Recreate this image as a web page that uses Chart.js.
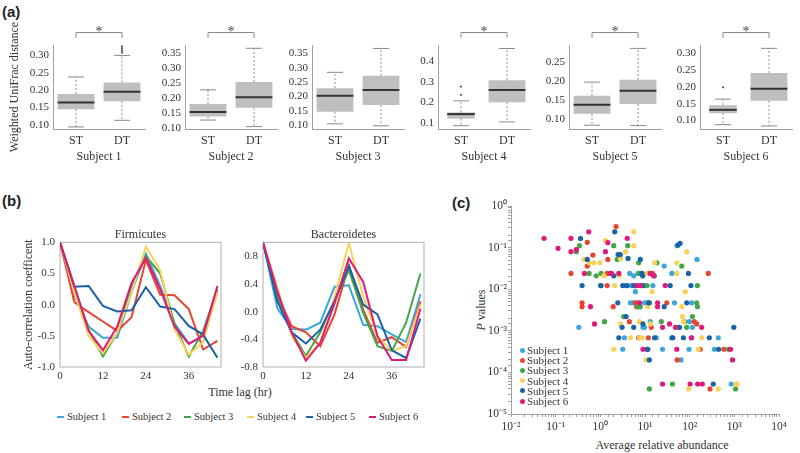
<!DOCTYPE html>
<html>
<head>
<meta charset="utf-8">
<script src="https://cdn.jsdelivr.net/npm/chart.js@4.4.1/dist/chart.umd.min.js"></script>
<style>
  body { margin: 0; background: #fff; }
  #fig { position: relative; width: 800px; height: 453px; overflow: hidden; font-family: "Liberation Serif", "Times New Roman", serif; color: #333; }
  canvas { position: absolute; }
  .tag { position: absolute; font: bold 15px "Liberation Sans", Arial, sans-serif; color: #222; }
  .txt { position: absolute; white-space: nowrap; font-size: 12px; line-height: 14px; transform: translate(-50%, -50%); }
  .leg { position: absolute; white-space: nowrap; font-family: "Liberation Serif", serif; font-size: 10.5px; line-height: 12px; }
  .mark { position: absolute; }
</style>
</head>
<body>
<div id="fig">
  <div class="tag" style="left:2px;top:3px">(a)</div>
  <div class="tag" style="left:2px;top:192px">(b)</div>
  <div class="tag" style="left:452px;top:194px">(c)</div>
  <div class="txt" style="left:240px;top:392px">Time lag (hr)</div>
  <div class="txt" style="left:662px;top:445px">Average relative abundance</div>
  <div class="txt" style="left:481px;top:310px;transform:translate(-50%,-50%) rotate(-90deg)"><i>P</i> values</div>
</div>
<script>
const subjects = ["Subject 1", "Subject 2", "Subject 3", "Subject 4", "Subject 5", "Subject 6"]
const colors = ["#3da5da", "#e8452f", "#3fa748", "#f9d25a", "#1a62a8", "#e01a7b"]
const groups = ["ST", "DT"]

// box stats: [lower whisker, Q1, median, Q3, upper whisker]
const stBoxes = [
    [0.094, 0.145, 0.164, 0.189, 0.238],
    [0.127, 0.139, 0.154, 0.181, 0.228],
    [0.105, 0.147, 0.203, 0.229, 0.284],
    [0.087, 0.121, 0.143, 0.151, 0.207],
    [0.083, 0.113, 0.137, 0.161, 0.197],
    [0.088, 0.122, 0.132, 0.146, 0.164]
]
const dtBoxes = [
    [0.113, 0.168, 0.195, 0.222, 0.300],
    [0.105, 0.168, 0.203, 0.254, 0.367],
    [0.098, 0.170, 0.223, 0.272, 0.367],
    [0.105, 0.200, 0.260, 0.307, 0.460],
    [0.082, 0.139, 0.174, 0.203, 0.286],
    [0.084, 0.159, 0.195, 0.242, 0.315]
]
const stOutliers = [[], [], [], [0.236, 0.276], [], [0.199]]
const dtOutliers = [[0.308, 0.314, 0.320, 0.326], [], [], [], [], []]
const significant = [true, true, false, true, true, true]
const boxYMin = [0.088, 0.097, 0.087, 0.071, 0.073, 0.075]
const boxYMax = [0.330, 0.378, 0.379, 0.477, 0.295, 0.325]
const boxTicks = [
    [0.10, 0.15, 0.20, 0.25, 0.30],
    [0.10, 0.15, 0.20, 0.25, 0.30, 0.35],
    [0.10, 0.15, 0.20, 0.25, 0.30, 0.35],
    [0.1, 0.2, 0.3, 0.4],
    [0.10, 0.15, 0.20, 0.25],
    [0.10, 0.15, 0.20, 0.25, 0.30]
]

// auto-correlation, one row per subject
const lags = [0, 4, 8, 12, 16, 20, 24, 28, 32, 36, 40, 44]
const firmicutes = [
    [1.0, 0.15, -0.35, -0.53, -0.53, 0.20, 0.82, 0.30, -0.30, -0.62, -0.50, 0.20],
    [1.0, 0.04, -0.12, -0.27, -0.42, -0.20, 0.72, 0.16, 0.15, -0.07, -0.72, -0.58],
    [1.0, 0.30, -0.40, -0.83, -0.45, 0.30, 0.78, 0.50, -0.30, -0.83, -0.42, 0.25],
    [1.0, 0.20, -0.50, -0.78, -0.45, 0.20, 0.93, 0.55, -0.40, -0.80, -0.60, 0.20],
    [1.0, 0.29, 0.30, -0.02, -0.11, -0.09, 0.28, -0.03, -0.07, -0.34, -0.48, -0.85],
    [1.0, 0.30, -0.42, -0.73, -0.35, 0.35, 0.75, 0.25, -0.35, -0.63, -0.50, 0.30]
]
const bacteroidetes = [
    [1.0, 0.05, -0.25, -0.26, -0.16, 0.36, 0.38, -0.19, -0.21, -0.33, -0.44, 0.25],
    [1.0, 0.25, -0.21, -0.30, -0.50, -0.04, 0.67, 0.03, -0.45, -0.37, -0.51, 0.15],
    [1.0, 0.20, -0.30, -0.64, -0.30, 0.17, 0.60, -0.02, -0.50, -0.57, -0.16, 0.55],
    [1.0, 0.35, -0.35, -0.67, -0.45, 0.22, 0.99, 0.22, -0.35, -0.57, -0.50, 0.10],
    [1.0, 0.15, -0.30, -0.46, -0.26, 0.15, 0.66, 0.10, -0.04, -0.56, -0.67, -0.10],
    [1.0, 0.30, -0.30, -0.71, -0.45, 0.12, 0.77, 0.43, -0.36, -0.70, -0.70, 0.04]
]
const lagTicks = [0, 12, 24, 36]
const firmTicks = [-1.0, -0.5, 0.0, 0.5, 1.0]
const bactTicks = [-0.8, -0.6, -0.4, -0.2, 0.0, 0.2, 0.4, 0.6, 0.8, 1.0]

// [average relative abundance, P value]
const s1Points = [[52, 0.111], [146, 0.052], [26.9, 0.036], [4.55, 0.024], [6.97, 0.024], [39.9, 0.024], [5.58, 0.021],
    [3.64, 0.0122], [4.96, 0.0122], [15.0, 0.0122], [6.08, 0.0087], [4.71, 0.0047], [5.4, 0.0047], [6.86, 0.0047],
    [9.8, 0.0047], [11.1, 0.0047], [45.7, 0.0047], [111, 0.0047], [7.85, 0.0038], [13.1, 0.00166], [98.7, 0.00166],
    [0.33, 0.00121], [9.0, 0.00121], [9.8, 0.00121], [58, 0.00121], [115, 0.00121], [3.46, 0.00068], [17.9, 0.00068],
    [111, 0.00068], [437, 0.00068], [3.18, 0.00036], [24.7, 0.00036], [97, 0.00036], [356, 0.00036], [64, 0.0002],
    [850, 0.0000526]]
const s2Points = [[2.25, 0.32], [0.51, 0.134], [0.68, 0.066], [1.47, 0.052], [0.51, 0.036], [0.22, 0.024], [1.42, 0.024],
    [14.8, 0.024], [261, 0.024], [1.42, 0.0122], [0.39, 0.0047], [6.08, 0.0047], [30.8, 0.0047], [0.39, 0.0038],
    [1.94, 0.0038], [6.5, 0.0038], [4.47, 0.00166], [127, 0.00166], [144, 0.00146], [13.8, 0.00121], [7.2, 0.00068],
    [11.9, 0.00068], [171, 0.00036], [584, 0.00036], [52.4, 0.0002], [285, 0.00004]]
const s3Points = [[0.34, 0.111], [0.29, 0.080], [2.0, 0.111], [4.1, 0.111], [2.38, 0.052], [7.2, 0.043], [18.5, 0.043],
    [66.5, 0.036], [0.56, 0.024], [1.04, 0.024], [7.46, 0.024], [12.1, 0.024], [0.81, 0.021], [1.0, 0.0122],
    [6.08, 0.0122], [9.3, 0.0122], [11.1, 0.0122], [149, 0.0122], [12.7, 0.0047], [144, 0.0047], [6.97, 0.0038],
    [7.59, 0.0038], [149, 0.0038], [3.34, 0.0022], [115, 0.0022], [1.24, 0.00166], [23.1, 0.00166], [76.3, 0.00166],
    [86, 0.00121], [741, 0.00036], [41.2, 0.0000526], [12.5, 0.00004], [1062, 0.00004]]
const s4Points = [[5.58, 0.24], [1.3, 0.147], [5.58, 0.111], [3.7, 0.08], [86, 0.08], [0.43, 0.052], [2.82, 0.055],
    [0.57, 0.043], [0.72, 0.043], [0.98, 0.043], [16.4, 0.043], [51.5, 0.043], [11.1, 0.024], [51.5, 0.024],
    [1.2, 0.021], [2.68, 0.021], [2.1, 0.0122], [14.3, 0.0087], [80, 0.0087], [11.6, 0.0038], [66.5, 0.0038],
    [68.9, 0.0022], [7.46, 0.00166], [72.5, 0.00166], [2.82, 0.00146], [13.1, 0.00146], [4.71, 0.00068],
    [7.59, 0.00068], [8.55, 0.00068], [186, 0.00068], [2.0, 0.00036], [156, 0.00036], [10.5, 0.0002],
    [1099, 0.0000526], [1157, 0.0000526], [95, 0.00004], [437, 0.00004]]
const s5Points = [[2.1, 0.24], [0.36, 0.165], [61, 0.127], [55, 0.115], [2.5, 0.068], [2.8, 0.068], [0.51, 0.052],
    [4.18, 0.055], [7.85, 0.052], [8.55, 0.024], [93.8, 0.024], [2.0, 0.021], [8.85, 0.021], [16.1, 0.021],
    [0.39, 0.0122], [1.04, 0.0122], [3.18, 0.0122], [3.97, 0.0122], [5.58, 0.0122], [8.85, 0.0122], [36.6, 0.0122],
    [107, 0.0122], [2.46, 0.0047], [12.1, 0.0047], [86, 0.0047], [26.9, 0.0038], [3.77, 0.0022], [9.0, 0.00146],
    [3.07, 0.00121], [5.58, 0.00121], [59, 0.00121], [975, 0.00121], [2.59, 0.00068], [16.4, 0.00068],
    [39.9, 0.00068], [42, 0.00068], [72.5, 0.00068], [275, 0.00068], [11.1, 0.00036], [11.6, 0.00036],
    [444, 0.00036], [12.5, 0.0002], [338, 0.0000526]]
const s6Points = [[0.055, 0.167], [0.113, 0.096], [0.22, 0.167], [0.22, 0.08], [0.29, 0.09], [0.55, 0.24], [4.0, 0.167],
    [1.47, 0.131], [1.3, 0.08], [0.44, 0.024], [1.69, 0.024], [1.78, 0.024], [2.59, 0.024], [13.1, 0.024],
    [15.6, 0.021], [6.63, 0.0122], [7.85, 0.0122], [28.3, 0.0122], [7.59, 0.0047], [19.1, 0.0047], [0.6, 0.0038],
    [19.1, 0.0038], [0.74, 0.00146], [35.4, 0.00146], [24.7, 0.00121], [48.1, 0.00121], [186, 0.00121],
    [109, 0.00068], [9.0, 0.00036], [51.5, 0.00036], [822, 0.00036], [910, 0.0002], [24.7, 0.0000526],
    [102, 0.0000526], [151, 0.0000526], [192, 0.0000526]]
const pointSets = [s1Points, s2Points, s3Points, s4Points, s5Points, s6Points]


Chart.defaults.font.family = '"Liberation Serif", "Times New Roman", serif'
Chart.defaults.color = "#333"

const fig = document.querySelector("#fig")

function addCanvas(left, top, width, height) {
    const c = document.createElement("canvas")
    c.width = width
    c.height = height
    c.style.left = left + "px"
    c.style.top = top + "px"
    fig.appendChild(c)
    return c
}

// whiskers, caps and medians on top of the floating bars
const boxPlugin = {
    id: "boxes",
    afterDatasetsDraw(chart) {
        const ctx = chart.ctx
        const y = chart.scales.y
        chart.data.datasets.forEach((ds, d) => {
            if (!ds.stats) return
            const meta = chart.getDatasetMeta(d)
            ds.stats.forEach((s, j) => {
                if (!s) return
                const bar = meta.data[j]
                const x = bar.x, w = bar.width
                const [lo, q1, med, q3, hi] = s.map(v => y.getPixelForValue(v))
                ctx.save()
                ctx.strokeStyle = "#8a8a8a"
                ctx.lineWidth = 1
                ctx.setLineDash([2, 2])
                ctx.beginPath()
                ctx.moveTo(x, q3); ctx.lineTo(x, hi)
                ctx.moveTo(x, q1); ctx.lineTo(x, lo)
                ctx.stroke()
                ctx.setLineDash([])
                const c = 8
                ctx.beginPath()
                ctx.moveTo(x - c, hi); ctx.lineTo(x + c, hi)
                ctx.moveTo(x - c, lo); ctx.lineTo(x + c, lo)
                ctx.stroke()
                ctx.strokeStyle = "#333"
                ctx.lineWidth = 2
                ctx.beginPath()
                ctx.moveTo(x - w / 2, med); ctx.lineTo(x + w / 2, med)
                ctx.stroke()
                ctx.restore()
            })
        })
    }
}

const bracketPlugin = {
    id: "bracket",
    afterDraw(chart, args, opts) {
        if (!opts.show) return
        const ctx = chart.ctx
        const top = chart.chartArea.top
        const x0 = chart.scales.x.getPixelForValue(0)
        const x1 = chart.scales.x.getPixelForValue(1)
        ctx.save()
        ctx.strokeStyle = "#8a8a8a"
        ctx.lineWidth = 1
        ctx.beginPath()
        ctx.moveTo(x0, top - 7); ctx.lineTo(x0, top - 12.5); ctx.lineTo(x1, top - 12.5); ctx.lineTo(x1, top - 7)
        ctx.stroke()
        ctx.fillStyle = "#444"
        ctx.font = '14px "Liberation Serif", serif'
        ctx.textAlign = "center"
        ctx.textBaseline = "alphabetic"
        ctx.fillText("*", (x0 + x1) / 2, top - 9)
        ctx.restore()
    }
}

const framePlugin = {
    id: "frame",
    beforeDatasetsDraw(chart) {
        const {left, top, width, height} = chart.chartArea
        const ctx = chart.ctx
        ctx.save()
        ctx.strokeStyle = "#b0b0b0"
        ctx.lineWidth = 1
        ctx.strokeRect(left, top, width, height)
        ctx.restore()
    }
}

const axisX = [53, 185, 312, 438, 569, 700]
const stBarPct = [0.8, 0.8, 0.8, 0.6, 0.8, 0.6]

function boxChart(i) {
    const yw = i === 0 ? 53 : 45
    const el = addCanvas(axisX[i] - yw, 20, yw + 96, 149)
    const st = stBoxes[i], dt = dtBoxes[i]
    const outl = []
    stOutliers[i].forEach(v => outl.push({x: "ST", y: v}))
    dtOutliers[i].forEach(v => outl.push({x: "DT", y: v}))
    return new Chart(el, {
        type: "bar",
        data: {
            labels: groups,
            datasets: [
                {data: [[st[1], st[3]], null], stats: [st, null], backgroundColor: "#bfbfbf", grouped: false,
                    barPercentage: stBarPct[i], categoryPercentage: 1},
                {data: [null, [dt[1], dt[3]]], stats: [null, dt], backgroundColor: "#bfbfbf", grouped: false,
                    barPercentage: 0.8, categoryPercentage: 1},
                {type: "line", data: outl, showLine: false, pointRadius: 1.1, pointBorderWidth: 0,
                    pointBackgroundColor: "#555"}
            ]
        },
        options: {
            responsive: false,
            animation: false,
            layout: {padding: {top: 25, right: 4}},
            plugins: {legend: {display: false}, tooltip: {enabled: false}, bracket: {show: significant[i]}},
            scales: {
                x: {
                    grid: {display: false, drawTicks: false},
                    border: {color: "#a0a0a0"},
                    ticks: {padding: 5, font: {size: 12}},
                    title: {display: true, text: subjects[i], padding: {top: 0, bottom: 5}, font: {size: 12}},
                    afterFit: s => { s.height = 40 }
                },
                y: {
                    min: boxYMin[i],
                    max: boxYMax[i],
                    grid: {display: false, drawTicks: false},
                    border: {color: "#a0a0a0"},
                    afterBuildTicks: s => { s.ticks = boxTicks[i].map(v => ({value: v})) },
                    ticks: {padding: 4, font: {size: 11}, callback: v => v.toFixed(i === 3 ? 1 : 2)},
                    title: {display: i === 0, text: "Weighted UniFrac distance", padding: {top: 8, bottom: 0}, font: {size: 12}},
                    afterFit: s => { s.width = yw }
                }
            }
        },
        plugins: [boxPlugin, bracketPlugin]
    })
}

for (let i = 0; i < 6; i++) boxChart(i)

function acfChart(left, yw, rows, yTicks, title, yTitle) {
    const el = addCanvas(left, 222, yw + 165, 165)
    return new Chart(el, {
        type: "line",
        data: {
            datasets: rows.map((vals, k) => ({
                label: subjects[k],
                data: lags.map((x, j) => ({x: x, y: vals[j]})),
                borderColor: colors[k],
                borderWidth: 2,
                pointRadius: 0,
                tension: 0,
                order: 5 - k
            }))
        },
        options: {
            responsive: false,
            animation: false,
            layout: {padding: {right: 4}},
            plugins: {
                legend: {display: false},
                tooltip: {enabled: false},
                title: {display: true, text: title, fullSize: false, padding: {top: 6, bottom: 0},
                    font: {size: 12, weight: "normal"}, color: "#333"}
            },
            scales: {
                x: {
                    type: "linear", min: 0, max: 45,
                    grid: {display: false, drawTicks: false},
                    border: {display: false},
                    afterBuildTicks: s => { s.ticks = lagTicks.map(v => ({value: v})) },
                    ticks: {padding: 3, font: {size: 11}},
                    afterFit: s => { s.height = 20 }
                },
                y: {
                    min: yTicks[0], max: yTicks[yTicks.length - 1],
                    grid: {display: false, drawTicks: false},
                    border: {display: false},
                    afterBuildTicks: s => { s.ticks = yTicks.map(v => ({value: v})) },
                    ticks: {padding: 5, font: {size: 11}, callback: v => v.toFixed(1)},
                    title: {display: !!yTitle, text: yTitle, padding: {top: 22, bottom: 0}, font: {size: 12}},
                    afterFit: s => { s.width = yw }
                }
            }
        },
        plugins: [framePlugin]
    })
}

acfChart(0, 60, firmicutes, firmTicks, "Firmicutes", "Auto-correlation coefficent")
acfChart(223, 40, bacteroidetes, bactTicks, "Bacteroidetes", "")

const supDigits = "⁰¹²³⁴⁵⁶⁷⁸⁹"
function powLabel(v) {
    const e = Math.log10(v)
    const r = Math.round(e)
    if (Math.abs(e - r) > 1e-6) return ""
    const s = String(Math.abs(r)).split("").map(d => supDigits[+d]).join("")
    return "10" + (r < 0 ? "⁻" : "") + s
}

const scatterEl = addCanvas(470, 190, 330, 263)
new Chart(scatterEl, {
    type: "scatter",
    data: {
        datasets: pointSets.map((pts, k) => ({
            label: subjects[k],
            data: pts.map(p => ({x: p[0], y: p[1]})),
            backgroundColor: colors[k],
            pointRadius: 2.6,
            pointBorderWidth: 0,
            order: 5 - k
        }))
    },
    options: {
        responsive: false,
        animation: false,
        layout: {padding: {top: 16, right: 21}},
        plugins: {legend: {display: false}, tooltip: {enabled: false}},
        scales: {
            x: {
                type: "logarithmic", min: 0.01, max: 10000,
                grid: {drawOnChartArea: false, tickLength: 3, color: "#a0a0a0"},
                border: {color: "#a0a0a0"},
                ticks: {padding: 3, autoSkip: false, maxRotation: 0, font: {size: 11.5}, callback: powLabel},
                afterFit: s => { s.height = 39 }
            },
            y: {
                type: "logarithmic", min: 0.00001, max: 1,
                grid: {drawOnChartArea: false, tickLength: 3, color: "#a0a0a0"},
                border: {color: "#a0a0a0"},
                ticks: {padding: 1, autoSkip: false, font: {size: 11.5}, callback: powLabel},
                afterFit: s => { s.width = 41 }
            }
        }
    }
})

// legends
const legLeft = [57, 122, 184, 247, 306, 369]
subjects.forEach((name, k) => {
    const m = document.createElement("div")
    m.className = "mark"
    m.style.cssText = `left:${legLeft[k]}px;top:416px;width:7px;height:2px;background:${colors[k]}`
    fig.appendChild(m)
    const t = document.createElement("div")
    t.className = "leg"
    t.style.cssText = `left:${legLeft[k] + 10}px;top:411px`
    t.textContent = name
    fig.appendChild(t)

    const y = 350 + k * 10.2
    const d = document.createElement("div")
    d.className = "mark"
    d.style.cssText = `left:519.5px;top:${y - 2.5}px;width:5px;height:5px;border-radius:50%;background:${colors[k]}`
    fig.appendChild(d)
    const t2 = document.createElement("div")
    t2.className = "leg"
    t2.style.cssText = `left:527px;top:${y - 6}px;font-size:11px`
    t2.textContent = name
    fig.appendChild(t2)
})
</script>
</body>
</html>
